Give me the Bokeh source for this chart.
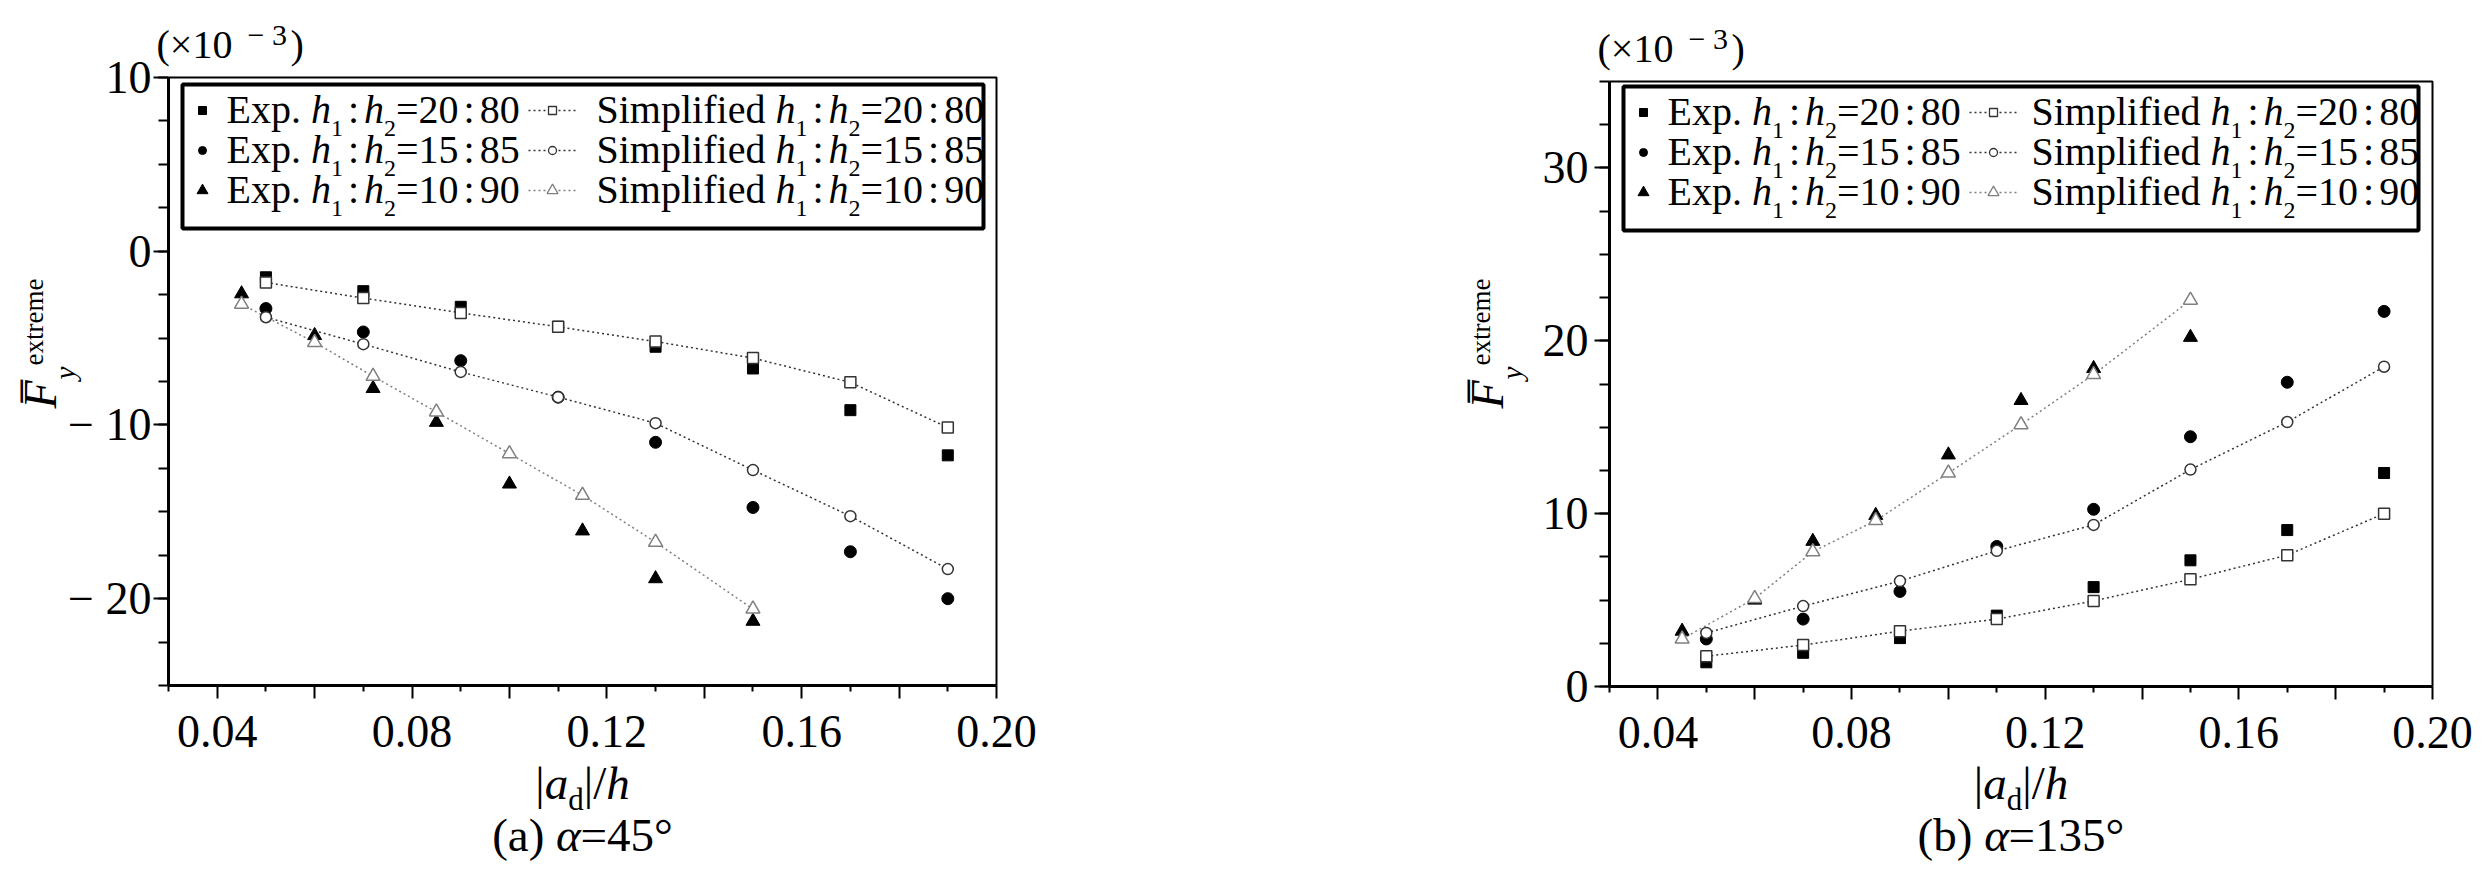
import math
from bokeh.plotting import figure
from bokeh.layouts import row
from bokeh.models import (Range1d, Label, BoxAnnotation, FixedTicker,
                          SingleIntervalTicker, CustomJSTickFormatter)
from bokeh.embed import file_html
from bokeh.resources import INLINE

# ---------------- data (values in units of 1e-3) ----------------
x_ratio_20_15 = [0.05, 0.07, 0.09, 0.11, 0.13, 0.15, 0.17, 0.19]
x_ratio_10 = [0.045, 0.06, 0.072, 0.085, 0.10, 0.115, 0.13, 0.15]

a45_exp_20_80 = [-1.5, -2.3, -3.2, -4.35, -5.5, -6.75, -9.15, -11.75]
a45_sim_20_80 = [-1.8, -2.7, -3.55, -4.35, -5.2, -6.15, -7.55, -10.15]
a45_exp_15_85 = [-3.3, -4.65, -6.3, -8.4, -11.0, -14.75, -17.3, -20.0]
a45_sim_15_85 = [-3.8, -5.35, -6.95, -8.4, -9.9, -12.6, -15.25, -18.3]
a45_exp_10_90 = [-2.45, -4.85, -7.9, -9.85, -13.4, -16.1, -18.85, -21.3]
a45_sim_10_90 = [-3.05, -5.25, -7.2, -9.25, -11.65, -14.05, -16.75, -20.6]

a135_exp_20_80 = [1.4, 1.95, 2.8, 4.1, 5.75, 7.3, 9.05, 12.35]
a135_sim_20_80 = [1.75, 2.4, 3.2, 3.9, 4.95, 6.2, 7.6, 10.0]
a135_exp_15_85 = [2.75, 3.9, 5.5, 8.1, 10.25, 14.45, 17.6, 21.7]
a135_sim_15_85 = [3.1, 4.65, 6.1, 7.85, 9.35, 12.55, 15.3, 18.5]
a135_exp_10_90 = [3.2, 5.0, 8.4, 9.9, 13.4, 16.55, 18.4, 20.2]
a135_sim_10_90 = [2.75, 5.1, 7.8, 9.6, 12.35, 15.15, 18.05, 22.35]

ratio_labels = ["20 : 80", "15 : 85", "10 : 90"]
x_bounds = (0.03, 0.20)
x_major_ticks = [0.04, 0.06, 0.08, 0.10, 0.12, 0.14, 0.16, 0.18, 0.20]
x_minor_ticks = [0.03, 0.05, 0.07, 0.09, 0.11, 0.13, 0.15, 0.17, 0.19]

FONT = "Liberation Serif"

REG = {' ': 0.25, '(': 0.333, ')': 0.333, '.': 0.25, ':': 0.278, '=': 0.564,
       'E': 0.611, 'S': 0.556, 'x': 0.5, 'p': 0.5, 'i': 0.278, 'm': 0.778,
       'l': 0.278, 'f': 0.333, 'e': 0.444, 'd': 0.5, 'a': 0.444, 'b': 0.5,
       '|': 0.2, '/': 0.278, '°': 0.4, '×': 0.564, '−': 0.564}
ITA = {'h': 0.5, 'a': 0.5, 'F': 0.611, 'y': 0.444, 'α': 0.52}
BASE_SHIFT = 0.34   # measured offset of rendered text baseline (fraction of em)


def tw(text, size, style):
    tab = ITA if style == "italic" else REG
    return sum(tab.get(c, REG.get(c, 0.5)) for c in text) * size


def rich(put, px, py, pieces, center=False):
    total = 0.0
    for pc in pieces:
        total += pc[1] if pc[0] == "GAP" else tw(pc[0], pc[1], pc[2])
    x = px - total / 2 if center else px
    for pc in pieces:
        if pc[0] == "GAP":
            x += pc[1]
            continue
        text, size, style, dy = pc
        put(x, py + dy, text, size, style)
        x += tw(text, size, style)


def make_panel(cfg):
    ox, oy, W, H = cfg["canvas"]          # page position and size of canvas
    pl, pr, pt, pb = cfg["area"]          # page position of the plot area
    x0, x1 = x_bounds
    y0, y1 = cfg["yr"]
    L, R, T, B = pl - ox, pr - ox, pt - oy, pb - oy
    kx = (x1 - x0) / (R - L)
    ky = (y1 - y0) / (B - T)
    xs, xe = x0 - L * kx, x1 + (W - R) * kx
    ys, ye = y0 - (H - B) * ky, y1 + T * ky

    p = figure(x_range=Range1d(xs, xe), y_range=Range1d(ys, ye),
               width=W, height=H, min_border=0, title=None,
               output_backend="svg", toolbar_location=None, tools="")
    p.grid.visible = False
    p.outline_line_color = None
    p.background_fill_color = "white"
    p.border_fill_color = "white"

    def X(px):
        return xs + (px - ox) * kx

    def Y(py):
        return ye - (py - oy) * ky

    def put(px, py, text, size, style="normal", angle=0.0):
        # (px, py) is the wanted baseline start in page pixels
        if angle == 0.0:
            ax, ay = px, py - BASE_SHIFT * size
        else:
            ax, ay = px - BASE_SHIFT * size, py
        p.add_layout(Label(x=X(ax), y=Y(ay), text=text, text_font=FONT,
                           text_font_size=f"{size}px", text_font_style=style,
                           text_align="left", text_baseline="alphabetic",
                           angle=angle, text_color="black"))

    # axes drawn at the plot-area edges
    xa = p.xaxis[0]
    xa.fixed_location = y0
    xa.bounds = (x0, x1)
    xa.ticker = FixedTicker(ticks=x_major_ticks, minor_ticks=x_minor_ticks)
    xa.formatter = CustomJSTickFormatter(code="""
        const k = Math.round(tick*100);
        return (k % 4 === 0) ? tick.toFixed(2) : "";
    """)
    ya = p.yaxis[0]
    ya.fixed_location = x0
    ya.bounds = (y0, y1)
    ya.ticker = SingleIntervalTicker(interval=10, num_minor_ticks=4)
    ya.formatter = CustomJSTickFormatter(code="""
        return tick < 0 ? "\\u2212 " + (-tick) : "" + tick;
    """)
    for ax, tout, mout, stand in ((xa, 13, 6, 17), (ya, 15, 10, cfg["ystand"])):
        ax.axis_line_width = 3
        ax.axis_line_color = "black"
        ax.major_tick_in = 0
        ax.minor_tick_in = 0
        ax.major_tick_out = tout
        ax.minor_tick_out = mout
        ax.major_tick_line_width = 2
        ax.minor_tick_line_width = 2
        ax.major_tick_line_color = "black"
        ax.minor_tick_line_color = "black"
        ax.major_label_text_font = FONT
        ax.major_label_text_font_size = "46px"
        ax.major_label_text_color = "black"
        ax.major_label_standoff = stand
        ax.axis_label = None

    # top and right border of the plot area
    p.line([x0, x1, x1], [y1, y1, y0], line_color="black", line_width=2)

    S = cfg["series"]
    sim_style = [("square", 11, "#333333"), ("circle", 11, "#333333"),
                 ("triangle", 14, "#808080")]
    for (xv, exp_y, sim_y), (mk, sz, col) in zip(S, sim_style):
        p.line(xv, sim_y, line_color=col, line_width=1.5, line_dash="2 3")
    for (xv, exp_y, sim_y), (mk, sz, col) in zip(S, sim_style):
        p.scatter(xv, exp_y, marker=mk, size=sz + (1 if mk == "circle" else 0),
                  fill_color="black", line_color="black", line_width=1)
    for (xv, exp_y, sim_y), (mk, sz, col) in zip(S, sim_style):
        p.scatter(xv, sim_y, marker=mk, size=sz, fill_color="white",
                  line_color=col, line_width=1.5)

    # legend (manual, italic h and subscripts), page coordinates
    lx0, ly0, lx1, ly1 = cfg["leg"]
    p.add_layout(BoxAnnotation(left=X(lx0), right=X(lx1), top=Y(ly0),
                               bottom=Y(ly1), fill_color="white", fill_alpha=1.0,
                               line_color="black", line_width=4, line_alpha=1.0,
                               level="underlay"))
    for i, (ratio, (mk, sz, col)) in enumerate(zip(ratio_labels, sim_style)):
        base = ly0 + 39 + 40 * i
        mid = base - 13
        a, b = ratio.split(" : ")
        tail = [("h", 40, "italic", 0), ("1", 24, "normal", 13), ("GAP", 5),
                (":", 40, "normal", 0), ("GAP", 5), ("h", 40, "italic", 0),
                ("2", 24, "normal", 13), ("=" + a, 40, "normal", 0), ("GAP", 5),
                (":", 40, "normal", 0), ("GAP", 5), (b, 40, "normal", 0)]
        p.scatter([X(lx0 + 20)], [Y(mid)], marker=mk, size=sz - 3,
                  fill_color="black", line_color="black")
        rich(put, lx0 + 44, base, [("Exp. ", 40, "normal", 0)] + tail)
        p.line([X(lx0 + 346), X(lx0 + 394)], [Y(mid), Y(mid)], line_color=col,
               line_width=1.5, line_dash="2 3")
        p.scatter([X(lx0 + 370)], [Y(mid)], marker=mk, size=sz - 3,
                  fill_color="white", line_color=col, line_width=1.3)
        rich(put, lx0 + cfg["col2"], base,
             [("Simplified ", 40, "normal", 0)] + tail)

    # multiplier (x10^-3) above the y axis
    mx, my = pl - 12, pt - 19
    put(mx, my, "(×10", 40)
    put(mx + 91, my - 14, "− 3", 30)
    put(mx + 134, my, ")", 40)

    # rotated y title: F-bar, subscript y, superscript extreme
    rot = math.pi / 2
    fx = pl + cfg["ylab"]
    put(fx, 410, "F\u0305", 46, "italic", rot)
    put(fx + 18, 381, "y", 29, "italic", rot)
    put(fx - 13, 367, "extreme", 27, "normal", rot)

    # x title |a_d|/h and caption
    cx = (pl + pr) / 2
    rich(put, cx, 800, [("|", 47, "normal", 0), ("a", 47, "italic", 0),
                        ("d", 31, "normal", 12), ("|/", 47, "normal", 0),
                        ("h", 47, "italic", 0)], center=True)
    rich(put, cx, 852, cfg["caption"], center=True)
    return p


ORIGIN = 2

pA = make_panel(dict(
    canvas=(ORIGIN, ORIGIN, 1408 - ORIGIN, 863), area=(170, 998, 79, 687),
    yr=(-25, 10), ystand=2, ylab=-112,
    series=[(x_ratio_20_15, a45_exp_20_80, a45_sim_20_80),
            (x_ratio_20_15, a45_exp_15_85, a45_sim_15_85),
            (x_ratio_10, a45_exp_10_90, a45_sim_10_90)],
    leg=(184, 86, 985, 230), col2=414,
    caption=[("(a) ", 47, "normal", 0), ("α", 47, "italic", 0),
             ("=45°", 47, "normal", 0)]))

pB = make_panel(dict(
    canvas=(1408, ORIGIN, 1068, 863), area=(1611, 2434, 83, 688),
    yr=(0, 35), ystand=6, ylab=-106,
    series=[(x_ratio_20_15, a135_exp_20_80, a135_sim_20_80),
            (x_ratio_20_15, a135_exp_15_85, a135_sim_15_85),
            (x_ratio_10, a135_exp_10_90, a135_sim_10_90)],
    leg=(1625, 88, 2420, 232), col2=408,
    caption=[("(b) ", 47, "normal", 0), ("α", 47, "italic", 0),
             ("=135°", 47, "normal", 0)]))

layout = row(pA, pB)
open("out.html", "w").write(file_html(layout, INLINE, title="chart"))
